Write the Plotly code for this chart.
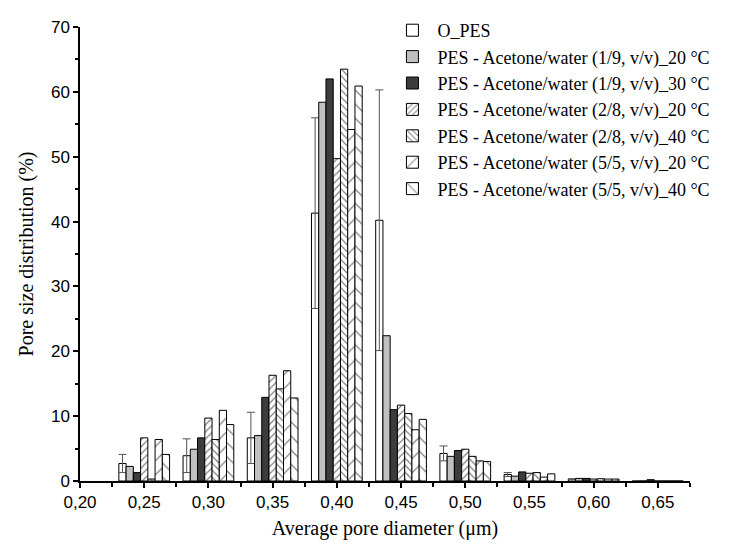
import plotly.graph_objects as go

diam = [0.25, 0.30, 0.35, 0.40, 0.45, 0.50, 0.55, 0.60, 0.65]

series_names = [
    "O_PES",
    "PES - Acetone/water (1/9, v/v)_20 °C",
    "PES - Acetone/water (1/9, v/v)_30 °C",
    "PES - Acetone/water (2/8, v/v)_20 °C",
    "PES - Acetone/water (2/8, v/v)_40 °C",
    "PES - Acetone/water (5/5, v/v)_20 °C",
    "PES - Acetone/water (5/5, v/v)_40 °C",
]

o_pes = [2.7, 3.9, 6.65, 41.3, 40.2, 4.25, 1.0, 0.3, 0.0]
o_pes_err = [1.4, 2.6, 3.95, 14.7, 20.1, 1.15, 0.3, 0.0, 0.0]
a19_20 = [2.25, 4.9, 7.0, 58.4, 22.4, 3.8, 0.75, 0.4, 0.0]
a19_30 = [1.3, 6.65, 12.9, 62.0, 11.0, 4.7, 1.4, 0.4, 0.2]
a28_20 = [6.65, 9.7, 16.3, 49.7, 11.7, 4.9, 1.2, 0.3, 0.0]
a28_40 = [0.3, 6.4, 14.2, 63.5, 10.4, 3.8, 1.3, 0.35, 0.0]
a55_20 = [6.4, 10.9, 17.0, 54.2, 7.9, 3.1, 0.6, 0.3, 0.0]
a55_40 = [4.1, 8.7, 12.8, 60.9, 9.5, 3.0, 1.1, 0.3, 0.0]

values = [o_pes, a19_20, a19_30, a28_20, a28_40, a55_20, a55_40]
fills = ["white", "#c0c0c0", "#3c3c3c", "white", "white", "white", "white"]
patterns = [None, None, None,
            dict(shape="/", size=5, solidity=0.25, fgcolor="black", bgcolor="white"),
            dict(shape="\\", size=5, solidity=0.25, fgcolor="black", bgcolor="white"),
            dict(shape="/", size=10, solidity=0.12, fgcolor="black", bgcolor="white"),
            dict(shape="\\", size=10, solidity=0.12, fgcolor="black", bgcolor="white")]

fig = go.Figure()
for i, (name, vals) in enumerate(zip(series_names, values)):
    marker = dict(color=fills[i], line=dict(color="black", width=1))
    if patterns[i] is not None:
        marker["pattern"] = patterns[i]
    kw = {}
    if i == 0:
        kw["error_y"] = dict(type="data", array=o_pes_err, visible=True,
                             color="#555555", thickness=1, width=4)
    fig.add_trace(go.Bar(x=diam, y=vals, name=name, marker=marker, **kw))

fig.update_layout(
    width=737, height=548,
    margin=dict(l=80, r=47, t=25, b=67),
    paper_bgcolor="white", plot_bgcolor="white",
    barmode="group", bargap=0.21, bargroupgap=0,
    separators=",.",
    font=dict(family="Liberation Serif", color="black"),
    legend=dict(x=0.504, y=1.033, xanchor="left", yanchor="top",
                font=dict(family="Liberation Serif", size=18, color="black"),
                bgcolor="rgba(0,0,0,0)", tracegroupgap=0, itemwidth=40),
    showlegend=True,
)
fig.update_xaxes(
    range=[0.20, 0.675], tickmode="array",
    tickvals=[0.20, 0.25, 0.30, 0.35, 0.40, 0.45, 0.50, 0.55, 0.60, 0.65],
    tickformat=".2f",
    ticks="outside", ticklen=5, tickwidth=1.5, tickcolor="black",
    minor=dict(tickmode="array", tickvals=[0.225, 0.275, 0.325, 0.375, 0.425, 0.475, 0.525, 0.575, 0.625, 0.675],
               ticks="outside", ticklen=4, tickwidth=1.5, tickcolor="black"),
    showline=True, linecolor="black", linewidth=1.5, showgrid=False, zeroline=False,
    tickfont=dict(family="Liberation Sans", size=17, color="black"),
    title=dict(text="Average pore diameter (μm)", standoff=10,
               font=dict(family="Liberation Serif", size=20, color="black")),
)
fig.update_yaxes(
    range=[0, 70], dtick=10, ticks="outside", ticklen=5, tickwidth=1.5, tickcolor="black",
    minor=dict(dtick=5, ticks="outside", ticklen=3, tickwidth=1.5, tickcolor="black"),
    showline=True, linecolor="black", linewidth=1.5, showgrid=False, zeroline=False,
    tickfont=dict(family="Liberation Sans", size=17, color="black"),
    title=dict(text="Pore size distribution (%)", standoff=12,
               font=dict(family="Liberation Serif", size=20, color="black")),
)

fig.write_html("out.html")
